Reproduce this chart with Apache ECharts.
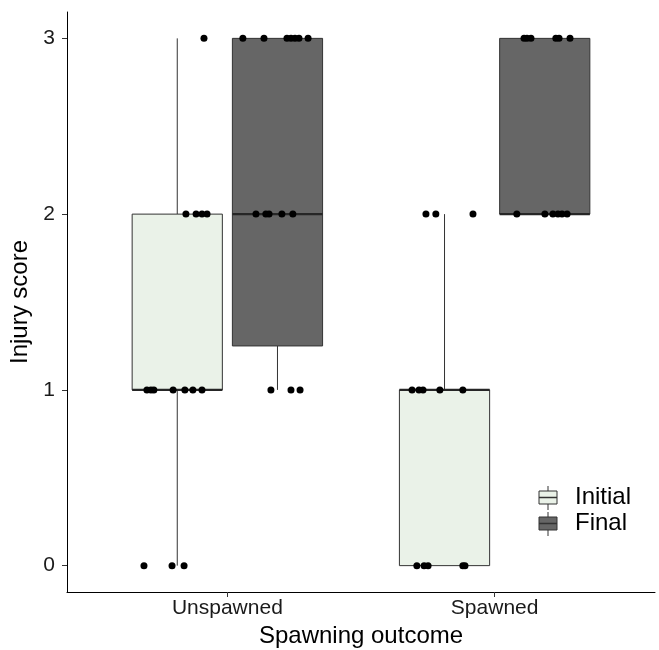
<!DOCTYPE html>
<html>
<head>
<meta charset="utf-8">
<script src="https://cdn.jsdelivr.net/npm/echarts@6/dist/echarts.min.js"></script>
<style>html,body{margin:0;padding:0;background:#fff}#c{width:659px;height:650px}</style>
</head>
<body>
<div id="c"></div>
<script>
// ---- data ----
const categories = ['Unspawned', 'Spawned'];
const groupNames = ['Initial', 'Final'];
const yTicks = [0, 1, 2, 3];
// box stats per category: [low, q1, median, q3, high]
const initialBoxes = [[0, 1, 1, 2, 3], [0, 0, 1, 1, 2]];
const finalBoxes = [[1, 1.25, 2, 3, 3], [2, 2, 2, 3, 3]];
// jittered observations [x, score]
const initialPoints = [
  [0.9125, 3],
  [0.845, 2], [0.883, 2], [0.905, 2], [0.924, 2],
  [0.699, 1], [0.714, 1], [0.725, 1], [0.797, 1], [0.841, 1], [0.871, 1], [0.905, 1],
  [0.688, 0], [0.793, 0], [0.838, 0],
  [1.743, 2], [1.780, 2], [1.919, 2],
  [1.691, 1], [1.717, 1], [1.732, 1], [1.795, 1], [1.881, 1],
  [1.709, 0], [1.736, 0], [1.751, 0], [1.881, 0], [1.889, 0]
];
const finalPoints = [
  [1.058, 3], [1.137, 3], [1.223, 3], [1.238, 3], [1.253, 3], [1.268, 3], [1.302, 3],
  [1.107, 2], [1.144, 2], [1.156, 2], [1.204, 2], [1.245, 2],
  [1.163, 1], [1.238, 1], [1.272, 1],
  [2.110, 3], [2.121, 3], [2.136, 3], [2.229, 3], [2.241, 3], [2.282, 3],
  [2.083, 2], [2.188, 2], [2.218, 2], [2.237, 2], [2.252, 2], [2.271, 2]
];

const FONT = '"Liberation Sans", Arial, sans-serif';
const DODGE = 0.1875, HALF = 0.16875;

function boxData(boxes, offset) {
  return boxes.map((b, i) => [i + 1 + offset].concat(b));
}

function renderBox(fill) {
  return function (params, api) {
    const x = api.value(0);
    const low = api.value(1), q1 = api.value(2), med = api.value(3), q3 = api.value(4), high = api.value(5);
    const pc = api.coord([x, 0]);
    const pl = api.coord([x - HALF, 0]);
    const pr = api.coord([x + HALF, 0]);
    const yl = api.coord([x, low])[1], y1 = api.coord([x, q1])[1], ym = api.coord([x, med])[1],
          y3 = api.coord([x, q3])[1], yh = api.coord([x, high])[1];
    const lineStyle = { stroke: '#333333', lineWidth: 1 };
    return {
      type: 'group',
      children: [
        { type: 'line', shape: { x1: pc[0], y1: yh, x2: pc[0], y2: y3 }, style: lineStyle },
        { type: 'line', shape: { x1: pc[0], y1: y1, x2: pc[0], y2: yl }, style: lineStyle },
        { type: 'rect', shape: { x: pl[0], y: y3, width: pr[0] - pl[0], height: y1 - y3 },
          style: { fill: fill, stroke: '#333333', lineWidth: 1 } },
        { type: 'line', shape: { x1: pl[0], y1: ym, x2: pr[0], y2: ym }, style: { stroke: '#262626', lineWidth: 2.4 } }
      ]
    };
  };
}

const INIT_FILL = '#eaf2e8', FINAL_FILL = '#666666';

const chart = echarts.init(document.getElementById('c'), null, { renderer: 'canvas' });
chart.setOption({
  animation: false,
  backgroundColor: '#ffffff',
  textStyle: { fontFamily: FONT },
  grid: { left: 67, right: 4, top: 12, bottom: 58, containLabel: false, outerBoundsMode: 'none' },
  xAxis: {
    type: 'value', min: 0.4, max: 2.6,
    splitLine: { show: false },
    axisLine: { show: true, onZero: false, lineStyle: { color: '#000', width: 1 } },
    axisTick: { show: true, length: 5, lineStyle: { color: '#333' }, customValues: [1, 2] },
    axisLabel: { fontSize: 21, color: '#1a1a1a', fontFamily: FONT, margin: 6,
      customValues: [1, 2], formatter: v => categories[Math.round(v) - 1] || '' },
    name: 'Spawning outcome', nameLocation: 'middle', nameGap: 31,
    nameTextStyle: { fontSize: 24, color: '#000', fontFamily: FONT }
  },
  yAxis: {
    type: 'value', min: -0.15, max: 3.15,
    splitLine: { show: false },
    axisLine: { show: true, onZero: false, lineStyle: { color: '#000', width: 1 } },
    axisTick: { show: true, length: 5, lineStyle: { color: '#333' }, customValues: yTicks },
    axisLabel: { fontSize: 21, color: '#1a1a1a', fontFamily: FONT, margin: 12, customValues: yTicks },
    name: 'Injury score', nameLocation: 'middle', nameGap: 33,
    nameTextStyle: { fontSize: 24, color: '#000', fontFamily: FONT }
  },
  series: [
    { name: groupNames[0], type: 'custom', renderItem: renderBox(INIT_FILL),
      data: boxData(initialBoxes, -DODGE), encode: { x: 0, y: [1, 2, 3, 4, 5] }, z: 2 },
    { name: groupNames[1], type: 'custom', renderItem: renderBox(FINAL_FILL),
      data: boxData(finalBoxes, DODGE), encode: { x: 0, y: [1, 2, 3, 4, 5] }, z: 2 },
    { type: 'scatter', data: initialPoints, symbolSize: 7, itemStyle: { color: '#000', opacity: 1 }, z: 5 },
    { type: 'scatter', data: finalPoints, symbolSize: 7, itemStyle: { color: '#000', opacity: 1 }, z: 5 }
  ],
  graphic: [
    // legend: Initial
    { type: 'line', shape: { x1: 548, y1: 486, x2: 548, y2: 510 }, style: { stroke: '#333', lineWidth: 1 } },
    { type: 'rect', shape: { x: 539, y: 491, width: 18, height: 13 }, style: { fill: INIT_FILL, stroke: '#333', lineWidth: 1 } },
    { type: 'line', shape: { x1: 539, y1: 497.5, x2: 557, y2: 497.5 }, style: { stroke: '#333', lineWidth: 1.5 } },
    { type: 'text', x: 575, y: 497, style: { text: groupNames[0], fontSize: 24, fontFamily: FONT, fill: '#000', verticalAlign: 'middle' } },
    // legend: Final
    { type: 'line', shape: { x1: 548, y1: 512, x2: 548, y2: 536 }, style: { stroke: '#333', lineWidth: 1 } },
    { type: 'rect', shape: { x: 539, y: 517, width: 18, height: 13 }, style: { fill: FINAL_FILL, stroke: '#333', lineWidth: 1 } },
    { type: 'line', shape: { x1: 539, y1: 523.5, x2: 557, y2: 523.5 }, style: { stroke: '#333', lineWidth: 1.5 } },
    { type: 'text', x: 575, y: 523, style: { text: groupNames[1], fontSize: 24, fontFamily: FONT, fill: '#000', verticalAlign: 'middle' } }
  ]
});
</script>
</body>
</html>
